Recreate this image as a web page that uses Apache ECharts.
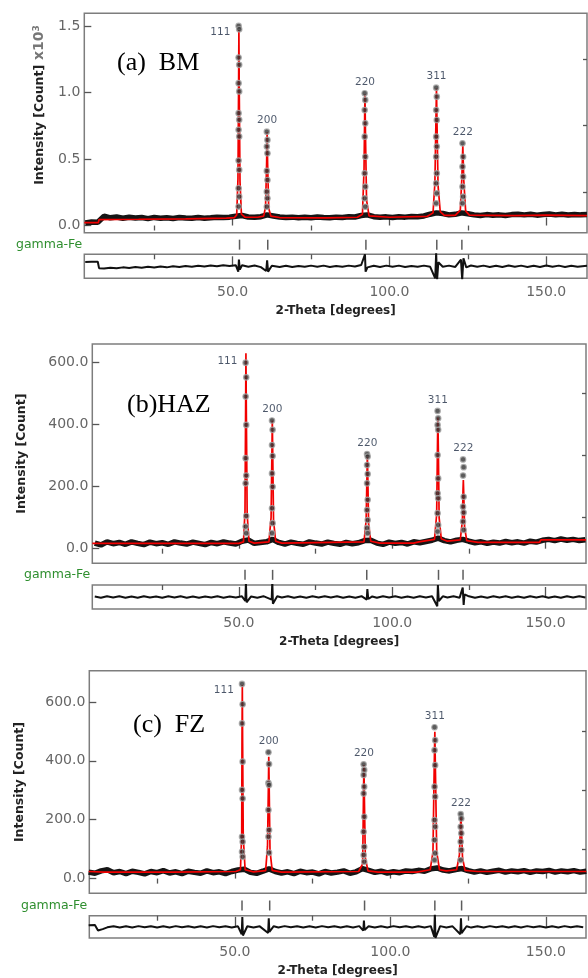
<!DOCTYPE html>
<html><head><meta charset="utf-8">
<script src="https://cdn.jsdelivr.net/npm/echarts@6/dist/echarts.min.js"></script>
<style>html,body{margin:0;padding:0;background:#fff}#c{width:588px;height:978px}</style>
</head><body><div id="c"></div>
<script>
// ---------------- DATA ----------------
const hkl = ['111', '200', '220', '311', '222'];
const xMajor = [50, 100, 150];
const xMinor = [25, 75, 125];

// Panel (a) BM
const peakPosA = [52.0, 61.0, 92.2, 115.0, 123.4];
const tickPosA = [52.2, 61.2, 92.5, 115.1, 123.1];
const dotsA = [
  [1500, 1475, 1262, 1208, 1070, 1008, 844, 794, 719, 669, 488, 418, 280, 217, 142],
  [705, 643, 593, 543, 410, 342, 254, 204, 141],
  [994, 944, 868, 768, 668, 517, 392, 292, 204, 141],
  [1036, 968, 868, 793, 668, 593, 517, 392, 317, 242, 167],
  [618, 517, 442, 367, 292, 217, 167]
];
const obsBgA = [[3,20],[5,26],[7,24],[9,70],[11,58],[13,64],[15,55],[17,62],[19,57],[21,60],[23,52],[25,61],[27,55],[29,58],[31,53],[33,60],[35,56],[37,54],[39,60],[41,55],[43,58],[45,62],[47,60],[49,63],[51,70],[53,75],[55,64],[57,62],[59,66],[61,80],[63,72],[65,64],[67,60],[69,63],[71,58],[73,62],[75,59],[77,64],[79,60],[81,58],[83,63],[85,61],[87,66],[89,64],[91,75],[93,80],[95,66],[97,62],[99,65],[101,60],[103,66],[105,63],[107,68],[109,66],[111,72],[113,85],[115,95],[117,90],[119,80],[121,84],[123,95],[125,88],[127,80],[129,76],[131,82],[133,78],[135,80],[137,76],[139,82],[141,85],[143,80],[145,84],[147,78],[149,82],[151,86],[153,80],[155,84],[157,79],[159,83],[161,80],[163,82]];
const calcA = [[2.7,22],[7.2,22],[7.4,45],[20,47],[35,50],[48,55],[50.6,60],[51.3,80],[51.7,350],[51.9,1050],[52.0,1470],[52.1,1050],[52.35,330],[52.8,85],[54,62],[58,62],[59.9,70],[60.5,140],[60.85,480],[61.0,700],[61.15,470],[61.5,130],[62.2,70],[65,60],[80,58],[89.8,62],[91.4,85],[91.9,420],[92.1,820],[92.2,985],[92.35,700],[92.7,190],[93.5,72],[100,62],[112,68],[113.9,95],[114.5,320],[114.85,820],[115.0,1030],[115.15,800],[115.5,300],[116.2,105],[117.5,76],[121,76],[122.6,115],[123.1,360],[123.4,600],[123.7,340],[124.3,110],[125.5,78],[140,75],[150,78],[163,75]];
const residA = [[3,33],[5,35],[7,34],[7.4,-14],[9,-16],[11,-10],[13,-15],[15,-8],[17,-13],[19,-6],[21,-11],[23,-4],[25,-9],[27,-2],[29,-8],[31,0],[33,-6],[35,2],[37,-4],[39,4],[41,-2],[43,6],[45,0],[47,8],[49,2],[51,8],[51.8,-40],[52.0,50],[52.3,-25],[53,8],[55,-3],[57,6],[59,-6],[60.7,-35],[61.0,45],[61.3,-40],[62.5,4],[65,-5],[67,4],[69,-6],[71,3],[73,-4],[75,5],[77,-3],[79,5],[81,-5],[83,3],[85,-4],[87,5],[89,-2],[91,10],[91.9,70],[92.2,90],[92.4,-40],[93,-8],[95,4],[97,-5],[99,5],[101,-3],[103,5],[105,-5],[107,3],[109,-4],[111,5],[113,-4],[114.6,-90],[114.9,100],[115.2,-100],[115.6,30],[117,-3],[119,5],[121,-5],[122.8,50],[123.2,-100],[123.6,60],[124.5,-8],[126,6],[128,-4],[130,5],[132,-5],[134,4],[136,-5],[138,6],[140,-3],[142,5],[144,-5],[146,4],[148,-5],[150,6],[152,-4],[154,5],[156,-5],[158,4],[160,-3],[163,4]];
const yMajorA = [0, 500, 1000, 1500];
const yMinorA = [250, 750, 1250];

// Panel (b) HAZ
const peakPosB = [52.3, 60.9, 91.9, 114.9, 123.2];
const tickPosB = [52.0, 61.0, 91.7, 115.1, 123.1];
const dotsB = [
  [598, 551, 489, 398, 291, 235, 210, 105, 71, 50],
  [412, 382, 333, 298, 242, 199, 130, 82, 50],
  [304, 296, 269, 240, 210, 157, 124, 92, 66, 50],
  [443, 419, 398, 382, 301, 226, 178, 162, 114, 76, 55],
  [287, 262, 235, 167, 135, 116, 87, 60]
];
const obsBgB = [[3,18],[5,12],[7,22],[9,16],[11,20],[13,14],[15,22],[17,17],[19,13],[21,21],[23,16],[25,19],[27,14],[29,22],[31,18],[33,15],[35,21],[37,17],[39,13],[41,20],[43,16],[45,22],[47,18],[49,15],[51,24],[53,28],[55,17],[57,20],[59,22],[61,30],[63,20],[65,15],[67,21],[69,17],[71,14],[73,22],[75,18],[77,15],[79,21],[81,17],[83,14],[85,20],[87,16],[89,19],[91,26],[93,27],[95,18],[97,14],[99,21],[101,17],[103,20],[105,15],[107,22],[109,19],[111,23],[113,27],[115,34],[117,26],[119,22],[121,27],[123,30],[125,24],[127,19],[129,22],[131,17],[133,21],[135,18],[137,23],[139,19],[141,22],[143,18],[145,24],[147,21],[149,27],[151,30],[153,26],[155,31],[157,27],[159,30],[161,26],[163,29]];
const calcB = [[2.2,17],[50,17],[51.5,22],[52.0,120],[52.2,450],[52.3,628],[52.45,420],[52.7,110],[53.3,24],[55,18],[59.8,22],[60.5,100],[60.8,330],[60.9,412],[61.05,300],[61.3,90],[62,24],[64,18],[90.8,22],[91.5,90],[91.8,250],[91.9,300],[92.05,230],[92.3,80],[93,24],[96,18],[107,18],[108.7,22],[113.8,30],[114.5,110],[114.8,360],[114.9,422],[115.05,320],[115.3,100],[116,32],[118,24],[122.2,28],[122.9,90],[123.1,190],[123.2,221],[123.35,170],[123.6,70],[124.3,26],[128,20],[148,20],[148.5,28],[163.2,28]];
const residB = [[3,4],[5,-5],[7,6],[9,-3],[11,5],[13,-6],[15,4],[17,-5],[19,6],[21,-4],[23,3],[25,-6],[27,5],[29,-3],[31,6],[33,-5],[35,4],[37,-6],[39,3],[41,-4],[43,6],[45,-5],[47,4],[49,-3],[51,5],[52.1,-30],[52.3,110],[52.5,-40],[54,4],[56,-5],[58,6],[60.7,-20],[60.9,120],[61.1,-50],[62.5,5],[64,-4],[66,6],[68,-5],[70,3],[72,-6],[74,5],[76,-4],[78,6],[80,-3],[82,5],[84,-6],[86,4],[88,-5],[90,6],[91.7,-20],[91.9,60],[92.2,-15],[93.5,4],[95,-5],[97,6],[99,-4],[101,5],[103,-6],[105,4],[107,-5],[109,6],[111,-4],[113,5],[114.7,-70],[114.9,90],[115.2,-30],[116.5,5],[118,-4],[120,6],[122,-5],[123.0,70],[123.3,-60],[123.6,20],[125,5],[127,-6],[129,4],[131,-5],[133,6],[135,-4],[137,5],[139,-6],[141,4],[143,-5],[145,6],[147,-4],[149,5],[151,-6],[153,4],[155,-5],[157,6],[159,-4],[161,5],[163,-3]];
const yMajorB = [0, 200, 400, 600];
const yMinorB = [100, 300, 500];

// Panel (c) FZ
const peakPosC = [52.4, 60.9, 91.5, 114.3, 122.7];
const tickPosC = [52.3, 61.2, 91.7, 114.3, 122.9];
const dotsC = [
  [661, 592, 527, 397, 301, 272, 142, 125, 91, 74],
  [429, 389, 325, 318, 233, 165, 142, 88],
  [388, 369, 352, 312, 289, 210, 159, 108, 80, 57],
  [514, 470, 436, 385, 312, 278, 199, 176, 131, 86, 63],
  [219, 204, 176, 154, 125, 97, 63]
];
const obsBgC = [[3,22],[5,18],[7,26],[9,30],[11,20],[13,24],[15,17],[17,25],[19,21],[21,16],[23,24],[25,20],[27,27],[29,19],[31,23],[33,17],[35,25],[37,21],[39,18],[41,26],[43,20],[45,23],[47,17],[49,24],[51,29],[53,32],[55,21],[57,18],[59,25],[61,33],[63,24],[65,19],[67,23],[69,17],[71,25],[73,20],[75,22],[77,16],[79,24],[81,19],[83,22],[85,26],[87,18],[89,23],[91,34],[93,28],[95,21],[97,25],[99,19],[101,23],[103,20],[105,26],[107,24],[109,28],[111,25],[113,33],[115,36],[117,29],[119,26],[121,31],[123,34],[125,27],[127,22],[129,26],[131,21],[133,25],[135,28],[137,22],[139,26],[141,23],[143,27],[145,21],[147,26],[149,24],[151,28],[153,22],[155,26],[157,23],[159,27],[161,22],[163,25]];
const calcC = [[3,24],[8,22],[30,22],[50.3,24],[51.8,30],[52.2,150],[52.3,480],[52.4,657],[52.5,460],[52.7,140],[53.3,30],[56,23],[59.9,27],[60.5,110],[60.8,330],[60.9,414],[61.05,300],[61.3,95],[62,28],[65,22],[89.8,24],[91.1,50],[91.35,280],[91.5,385],[91.65,270],[91.95,70],[92.8,26],[96,22],[108.5,22],[108.8,27],[112.8,30],[113.7,90],[114.1,380],[114.3,499],[114.5,360],[114.9,90],[115.8,30],[118,26],[121.3,30],[122.2,80],[122.55,180],[122.7,210],[122.85,170],[123.2,70],[124,28],[128,24],[163,24]];
const residC = [[3,12],[5,14],[6,-30],[7.5,-18],[9,-4],[11,5],[13,-6],[15,4],[17,-5],[19,6],[21,-4],[23,5],[25,-6],[27,4],[29,-5],[31,6],[33,-4],[35,5],[37,-6],[39,4],[41,-5],[43,6],[45,-4],[47,5],[49,-6],[51,4],[52.2,-60],[52.4,80],[52.6,-70],[54,5],[56,-6],[58,4],[60.7,-50],[60.9,70],[61.1,-40],[62.5,5],[64,-5],[66,6],[68,-4],[70,5],[72,-6],[74,4],[76,-5],[78,6],[80,-4],[82,5],[84,-6],[86,4],[88,-5],[90,6],[91.3,-30],[91.5,50],[91.7,-25],[93,5],[95,-6],[97,4],[99,-5],[101,6],[103,-4],[105,5],[107,-6],[109,4],[111,-5],[113,6],[114.1,-80],[114.3,110],[114.5,-90],[116,6],[118,-5],[120,4],[122.5,-60],[122.7,70],[122.9,-50],[124.5,5],[126,-6],[128,4],[130,-5],[132,6],[134,-4],[136,5],[138,-6],[140,4],[142,-5],[144,6],[146,-4],[148,5],[150,-6],[152,4],[154,-5],[156,6],[158,-4],[160,5],[162,-3]];
const yMajorC = [0, 200, 400, 600];
const yMinorC = [100, 300, 500];

// ---------------- BUILD ----------------
const FONT = 'DejaVu Sans';
const tickLine = {color: '#555', width: 1.3};
const grids = [], xAxes = [], yAxes = [], series = [];

function addPanel(L, D) {
  const g0 = grids.length;
  grids.push({left: L.left, top: L.top, width: L.width, height: L.h, show: true, borderColor: '#7d7d7d', borderWidth: 1.5});
  grids.push({left: L.left, top: L.rowTop, width: L.width, height: L.rowH, show: false});
  grids.push({left: L.left, top: L.resTop, width: L.width, height: L.resH, show: true, borderColor: '#7d7d7d', borderWidth: 1.5});
  const xi = xAxes.length, yi = yAxes.length;
  const xb = {type: 'value', min: L.xmin, max: L.xmax, splitLine: {show: false}, axisLine: {show: false}};
  xAxes.push(Object.assign({}, xb, {gridIndex: g0, axisLabel: {show: false}, axisTick: {show: true, inside: true, length: 8, customValues: xMajor, lineStyle: tickLine}}));
  xAxes.push(Object.assign({}, xb, {gridIndex: g0, axisLabel: {show: false}, axisTick: {show: true, inside: true, length: 5, customValues: xMinor, lineStyle: tickLine}}));
  xAxes.push(Object.assign({}, xb, {gridIndex: g0 + 1, show: false}));
  xAxes.push(Object.assign({}, xb, {gridIndex: g0 + 2,
    axisLabel: {show: true, customValues: xMajor, formatter: v => v.toFixed(1), fontSize: 14, color: '#666', margin: 7, fontFamily: FONT},
    axisTick: {show: true, inside: true, length: 10, customValues: xMajor, lineStyle: tickLine},
    name: '2-Theta [degrees]', nameLocation: 'middle', nameGap: 27,
    nameTextStyle: {fontSize: 12, fontWeight: 'bold', color: '#222', fontFamily: FONT}}));
  xAxes.push(Object.assign({}, xb, {gridIndex: g0 + 2, axisLabel: {show: false}, axisTick: {show: true, inside: true, length: 5, customValues: xMinor, lineStyle: tickLine}}));

  yAxes.push({type: 'value', gridIndex: g0, min: L.ymin, max: L.ymax, axisLine: {show: false}, splitLine: {show: false},
    axisTick: {show: true, inside: true, length: 7, customValues: D.yMajor, lineStyle: tickLine},
    axisLabel: {customValues: D.yMajor, formatter: D.fmt, fontSize: 14, color: '#666', margin: 4, fontFamily: FONT},
    name: D.yName, nameLocation: 'middle', nameGap: L.nameGap,
    nameTextStyle: {fontSize: 12.5, fontWeight: 'bold', color: '#222', fontFamily: FONT, rich: D.rich}});
  yAxes.push({type: 'value', gridIndex: g0, min: L.ymin, max: L.ymax, axisLine: {show: false}, splitLine: {show: false},
    axisTick: {show: true, inside: true, length: 4, customValues: D.yMinor, lineStyle: tickLine}, axisLabel: {show: false}});
  yAxes.push({type: 'category', gridIndex: g0 + 1, data: ['gamma-Fe'], axisLine: {show: false}, axisTick: {show: false},
    axisLabel: {color: '#2f8f2f', fontSize: 12.5, margin: 2, fontFamily: FONT}});
  yAxes.push({type: 'value', gridIndex: g0 + 2, min: -90, max: 90, show: false});

  // observed background band
  series.push({type: 'line', xAxisIndex: xi, yAxisIndex: yi, data: D.obsBg, symbol: 'none', z: 2,
    lineStyle: {color: '#151515', width: 5.5}});
  // calculated profile
  series.push({type: 'line', xAxisIndex: xi, yAxisIndex: yi, data: D.calc, symbol: 'none', z: 3,
    lineStyle: {color: '#f20000', width: 1.7}});
  // observed peak points
  const dots = [];
  D.dots.forEach((arr, k) => arr.forEach((v, j) => dots.push([D.pos[k] + (j % 2 ? 0.1 : -0.1), v])));
  series.push({type: 'scatter', xAxisIndex: xi, yAxisIndex: yi, data: dots, symbol: 'circle', symbolSize: 5.5, z: 4,
    itemStyle: {color: '#333', borderColor: '#a8a8a8', borderWidth: 1.2}});
  // hkl labels anchored on the top observed point of each peak
  series.push({type: 'scatter', xAxisIndex: xi, yAxisIndex: yi, z: 5, symbolSize: 1, itemStyle: {color: 'rgba(0,0,0,0)'},
    data: hkl.map((h, k) => ({value: [D.pos[k], D.dots[k][0]], name: h,
      label: k === 0 ? {position: 'left', distance: 8, offset: [0, L.firstLabelDy]} : {position: 'top', distance: 5}})),
    label: {show: true, formatter: p => p.name, fontSize: 10.5, color: '#1f2d45', fontFamily: FONT}});
  // reflection markers
  series.push({type: 'scatter', xAxisIndex: xi + 2, yAxisIndex: yi + 2, data: D.ticks.map(p => [p, 0]),
    symbol: 'rect', symbolSize: [1.5, 10], itemStyle: {color: '#333'}});
  // difference curve
  series.push({type: 'line', xAxisIndex: xi + 3, yAxisIndex: yi + 3, data: D.resid, symbol: 'none',
    lineStyle: {color: '#111', width: 2}});
}

addPanel({left: 84.3, top: 13.3, width: 502.7, h: 219.4, rowTop: 240, rowH: 9.3, resTop: 254.3, resH: 24,
  xmin: 2.7, xmax: 163, ymin: -54, ymax: 1595, nameGap: 38, firstLabelDy: 6},
  {pos: peakPosA, ticks: tickPosA, dots: dotsA, obsBg: obsBgA, calc: calcA, resid: residA,
   yMajor: yMajorA, yMinor: yMinorA, fmt: v => (v / 1000).toFixed(1),
   yName: '{p| }{b|Intensity [Count]}{g| x10}{s|3}',
   rich: {p: {width: 36}, b: {fontSize: 12.5, fontWeight: 'bold', color: '#222', fontFamily: FONT},
          g: {fontSize: 14, color: '#777', fontFamily: FONT}, s: {fontSize: 9, color: '#777', verticalAlign: 'top', fontFamily: FONT}}});
addPanel({left: 92.3, top: 344, width: 493.7, h: 219.3, rowTop: 569, rowH: 11.7, resTop: 585, resH: 24,
  xmin: 2.2, xmax: 163.2, ymin: -47, ymax: 658, nameGap: 64, firstLabelDy: -1},
  {pos: peakPosB, ticks: tickPosB, dots: dotsB, obsBg: obsBgB, calc: calcB, resid: residB,
   yMajor: yMajorB, yMinor: yMinorB, fmt: v => v.toFixed(1), yName: 'Intensity [Count]'});
addPanel({left: 89.3, top: 670.7, width: 496.7, h: 222.6, rowTop: 900, rowH: 11, resTop: 915.7, resH: 23.6,
  xmin: 3.2, xmax: 162.9, ymin: -50, ymax: 706, nameGap: 63, firstLabelDy: 6},
  {pos: peakPosC, ticks: tickPosC, dots: dotsC, obsBg: obsBgC, calc: calcC, resid: residC,
   yMajor: yMajorC, yMinor: yMinorC, fmt: v => v.toFixed(1), yName: 'Intensity [Count]'});

const panelText = (txt, x, y) => ({type: 'text', x: x, y: y, z: 10,
  style: {text: txt, fontSize: 26, fontFamily: 'Liberation Serif', fill: '#000', verticalAlign: 'middle'}});

const chart = echarts.init(document.getElementById('c'), null, {renderer: 'canvas'});
chart.setOption({
  animation: false,
  backgroundColor: '#fff',
  grid: grids, xAxis: xAxes, yAxis: yAxes, series: series,
  graphic: [panelText('(a)  BM', 117, 63), panelText('(b)HAZ', 127, 405), panelText('(c)  FZ', 133, 725)]
});
</script></body></html>
